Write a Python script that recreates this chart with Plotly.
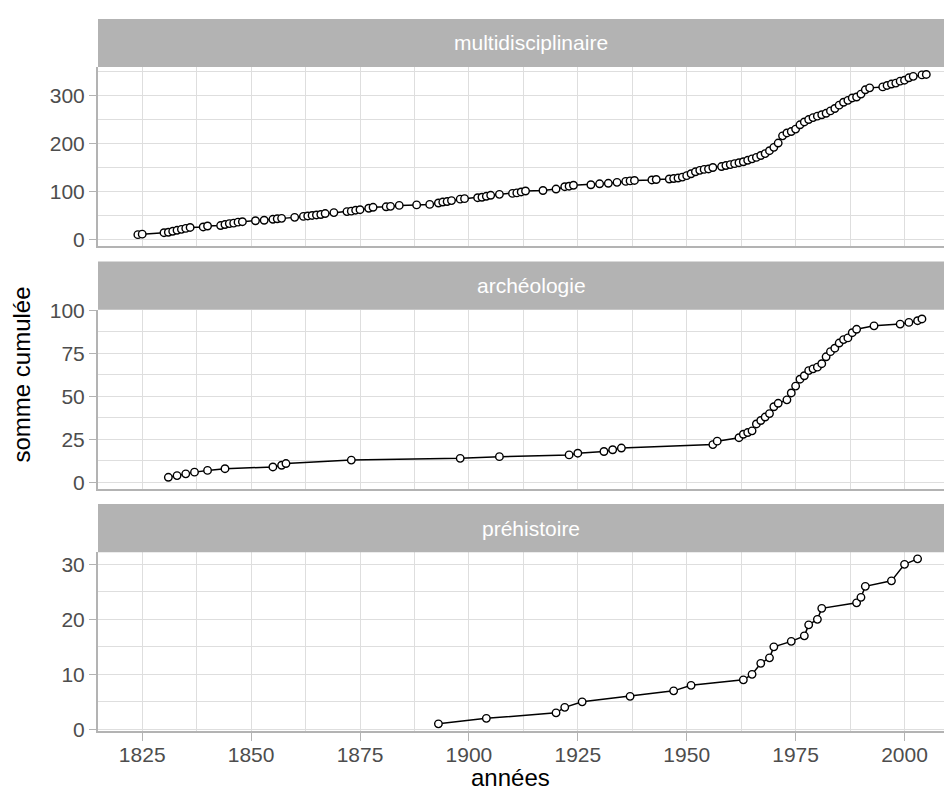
import plotly.graph_objects as go

# ---------------- data ----------------
panel_names = ["multidisciplinaire", "archéologie", "préhistoire"]

multi_years = [1824, 1825, 1830, 1831, 1832, 1833, 1834, 1835, 1836, 1839, 1840, 1843, 1844, 1845,
               1846, 1847, 1848, 1851, 1853, 1855, 1856, 1857, 1860, 1862, 1863, 1864, 1865, 1866,
               1867, 1869, 1872, 1873, 1874, 1875, 1877, 1878, 1881, 1882, 1884, 1888, 1891, 1893,
               1894, 1895, 1896, 1898, 1899, 1902, 1903, 1904, 1905, 1907, 1910, 1911, 1912, 1913,
               1917, 1920, 1922, 1923, 1924, 1928, 1930, 1932, 1934, 1936, 1937, 1938, 1942, 1943,
               1946, 1947, 1948, 1949, 1950, 1951, 1952, 1953, 1954, 1955, 1956, 1958, 1959, 1960,
               1961, 1962, 1963, 1964, 1965, 1966, 1967, 1968, 1969, 1970, 1971, 1972, 1973, 1974,
               1975, 1976, 1977, 1978, 1979, 1980, 1981, 1982, 1983, 1984, 1985, 1986, 1987, 1988,
               1989, 1990, 1991, 1992, 1995, 1996, 1997, 1998, 1999, 2000, 2001, 2002, 2004, 2005]
multi_values = [10, 11, 14, 15, 17, 19, 21, 23, 25, 26, 28, 29, 31, 33,
                34, 36, 37, 39, 40, 42, 43, 44, 46, 48, 49, 50, 51, 52,
                54, 56, 58, 59, 61, 62, 65, 67, 68, 69, 71, 72, 73, 76,
                78, 79, 81, 84, 85, 87, 88, 90, 92, 94, 96, 97, 99, 101,
                102, 105, 110, 111, 113, 114, 116, 117, 119, 121, 122, 123, 124, 125,
                126, 127, 128, 130, 133, 137, 141, 144, 146, 147, 150, 152, 154, 156,
                158, 160, 162, 165, 168, 171, 175, 179, 185, 192, 201, 216, 222, 225,
                230, 239, 245, 250, 254, 257, 260, 263, 268, 273, 280, 286, 290, 295,
                297, 303, 312, 316, 318, 321, 324, 326, 330, 332, 337, 340, 343, 344]

archeo_years = [1831, 1833, 1835, 1837, 1840, 1844, 1855, 1857, 1858, 1873, 1898, 1907, 1923, 1925,
                1931, 1933, 1935, 1956, 1957, 1962, 1963, 1964, 1965, 1966, 1967, 1968, 1969, 1970,
                1971, 1973, 1974, 1975, 1976, 1977, 1978, 1979, 1980, 1981, 1982, 1983, 1984, 1985,
                1986, 1987, 1988, 1989, 1993, 1999, 2001, 2003, 2004]
archeo_values = [3, 4, 5, 6, 7, 8, 9, 10, 11, 13, 14, 15, 16, 17,
                 18, 19, 20, 22, 24, 26, 28, 29, 30, 34, 36, 38, 40, 44,
                 46, 48, 52, 56, 60, 62, 65, 66, 67, 69, 73, 76, 78, 81,
                 83, 84, 87, 89, 91, 92, 93, 94, 95]

prehist_years = [1893, 1904, 1920, 1922, 1926, 1937, 1947, 1951, 1963, 1965, 1967, 1969, 1970, 1974,
                 1977, 1978, 1980, 1981, 1989, 1990, 1991, 1997, 2000, 2003]
prehist_values = [1, 2, 3, 4, 5, 6, 7, 8, 9, 10, 12, 13, 15, 16,
                  17, 19, 20, 22, 23, 24, 26, 27, 30, 31]

x_ticks = [1825, 1850, 1875, 1900, 1925, 1950, 1975, 2000]
y_ticks = [[0, 100, 200, 300], [0, 25, 50, 75, 100], [0, 10, 20, 30]]
y_minor = [50, 12.5, 5]
y_ranges = [[-13.9, 359.6], [-3.8, 100.4], [-0.3, 32.2]]
x_range = [1814.85, 2010.9]

x_label = "années"
y_label = "somme cumulée"

# ---------------- layout geometry ----------------
# the page adds an 8px body margin, so the figure is 8px smaller and all
# reference pixel positions are shifted by OFF
OFF = 8
W, H = 952 - OFF, 798 - OFF
PLOT_BOTTOM = 731.0 - OFF
mt, ml, mr = 14 - OFF, 98 - OFF, 0
mb = H - PLOT_BOTTOM
ph = H - mt - mb

def fy(px):
    return (H - mb - (px - OFF)) / ph

def fx(px):
    return ((px - OFF) - ml) / (W - ml - mr)

panels_px = [(62.3, 242.7), (306.7, 487.3), (551.0, 731.0)]
strips_px = [(14.0, 62.3), (258.3, 306.7), (502.3, 551.0)]

FONT = "Liberation Sans, Arial, Helvetica, sans-serif"
GRID = "#DEDEDE"
BORDER = "#B3B3B3"
TICK_SIZE = 21
TITLE_SIZE = 24

series = [(multi_years, multi_values), (archeo_years, archeo_values), (prehist_years, prehist_values)]

fig = go.Figure()
layout = dict(
    width=W, height=H,
    margin=dict(l=ml, r=mr, t=mt, b=mb, pad=0),
    paper_bgcolor="white", plot_bgcolor="white",
    showlegend=False,
    font=dict(family=FONT, color="#4D4D4D", size=TICK_SIZE),
)

shapes = []
annotations = []
for i, (xs, ys) in enumerate(series):
    n = "" if i == 0 else str(i + 1)
    fig.add_trace(go.Scatter(
        x=xs, y=ys, mode="lines+markers",
        xaxis="x" + n, yaxis="y" + n,
        line=dict(color="black", width=1.5),
        marker=dict(size=7.5, color="white", line=dict(color="black", width=1.4)),
        hoverinfo="x+y",
    ))
    top, bot = panels_px[i]
    bottom = (i == 2)
    xa = dict(
        domain=[0, 1], anchor="y" + n, range=x_range,
        tickvals=x_ticks, ticktext=[str(t) for t in x_ticks],
        showticklabels=bottom,
        ticks="outside" if bottom else "", ticklen=8, tickwidth=1.4, tickcolor=BORDER,
        showgrid=True, gridcolor=GRID, gridwidth=1.4,
        minor=dict(dtick=12.5, tick0=1825, showgrid=True, gridcolor=GRID, gridwidth=0.7, ticks=""),
        showline=True, linecolor=BORDER, linewidth=2,
        zeroline=False, tickfont=dict(size=TICK_SIZE, color="#4D4D4D"),
    )
    if bottom:
        xa["ticklabelstandoff"] = -4
    if i > 0:
        xa["matches"] = "x"
    layout["xaxis" + n] = xa
    layout["yaxis" + n] = dict(
        domain=[fy(bot), fy(top)], anchor="x" + n, range=y_ranges[i],
        tickvals=y_ticks[i], ticktext=[str(t) for t in y_ticks[i]],
        ticks="outside", ticklen=7, tickwidth=1.4, tickcolor=BORDER,
        showgrid=True, gridcolor=GRID, gridwidth=1.4,
        minor=dict(dtick=y_minor[i] * 2, tick0=y_minor[i], showgrid=True, gridcolor=GRID,
                   gridwidth=0.7, ticks=""),
        showline=True, linecolor=BORDER, linewidth=2,
        zeroline=False, tickfont=dict(size=TICK_SIZE, color="#4D4D4D"),
    )
    st, sb = strips_px[i]
    shapes.append(dict(type="rect", xref="paper", yref="paper", x0=0, x1=1.02,
                       y0=fy(sb), y1=fy(st), fillcolor=BORDER, line=dict(width=0), layer="above"))
    annotations.append(dict(text=panel_names[i], xref="paper", yref="paper",
                            x=fx(531), y=(fy(sb) + fy(st)) / 2,
                            showarrow=False, xanchor="center", yanchor="middle",
                            font=dict(family=FONT, size=TICK_SIZE, color="white")))

annotations.append(dict(text=x_label, xref="paper", yref="paper",
                        x=fx(510), y=fy(778),
                        showarrow=False, xanchor="center", yanchor="middle",
                        font=dict(family=FONT, size=TITLE_SIZE, color="black")))
annotations.append(dict(text=y_label, xref="paper", yref="paper",
                        x=fx(22), y=fy(372),
                        showarrow=False, xanchor="center", yanchor="middle", textangle=-90,
                        font=dict(family=FONT, size=TITLE_SIZE, color="black")))

layout["shapes"] = shapes
layout["annotations"] = annotations
fig.update_layout(**layout)
fig.write_html("out.html")
